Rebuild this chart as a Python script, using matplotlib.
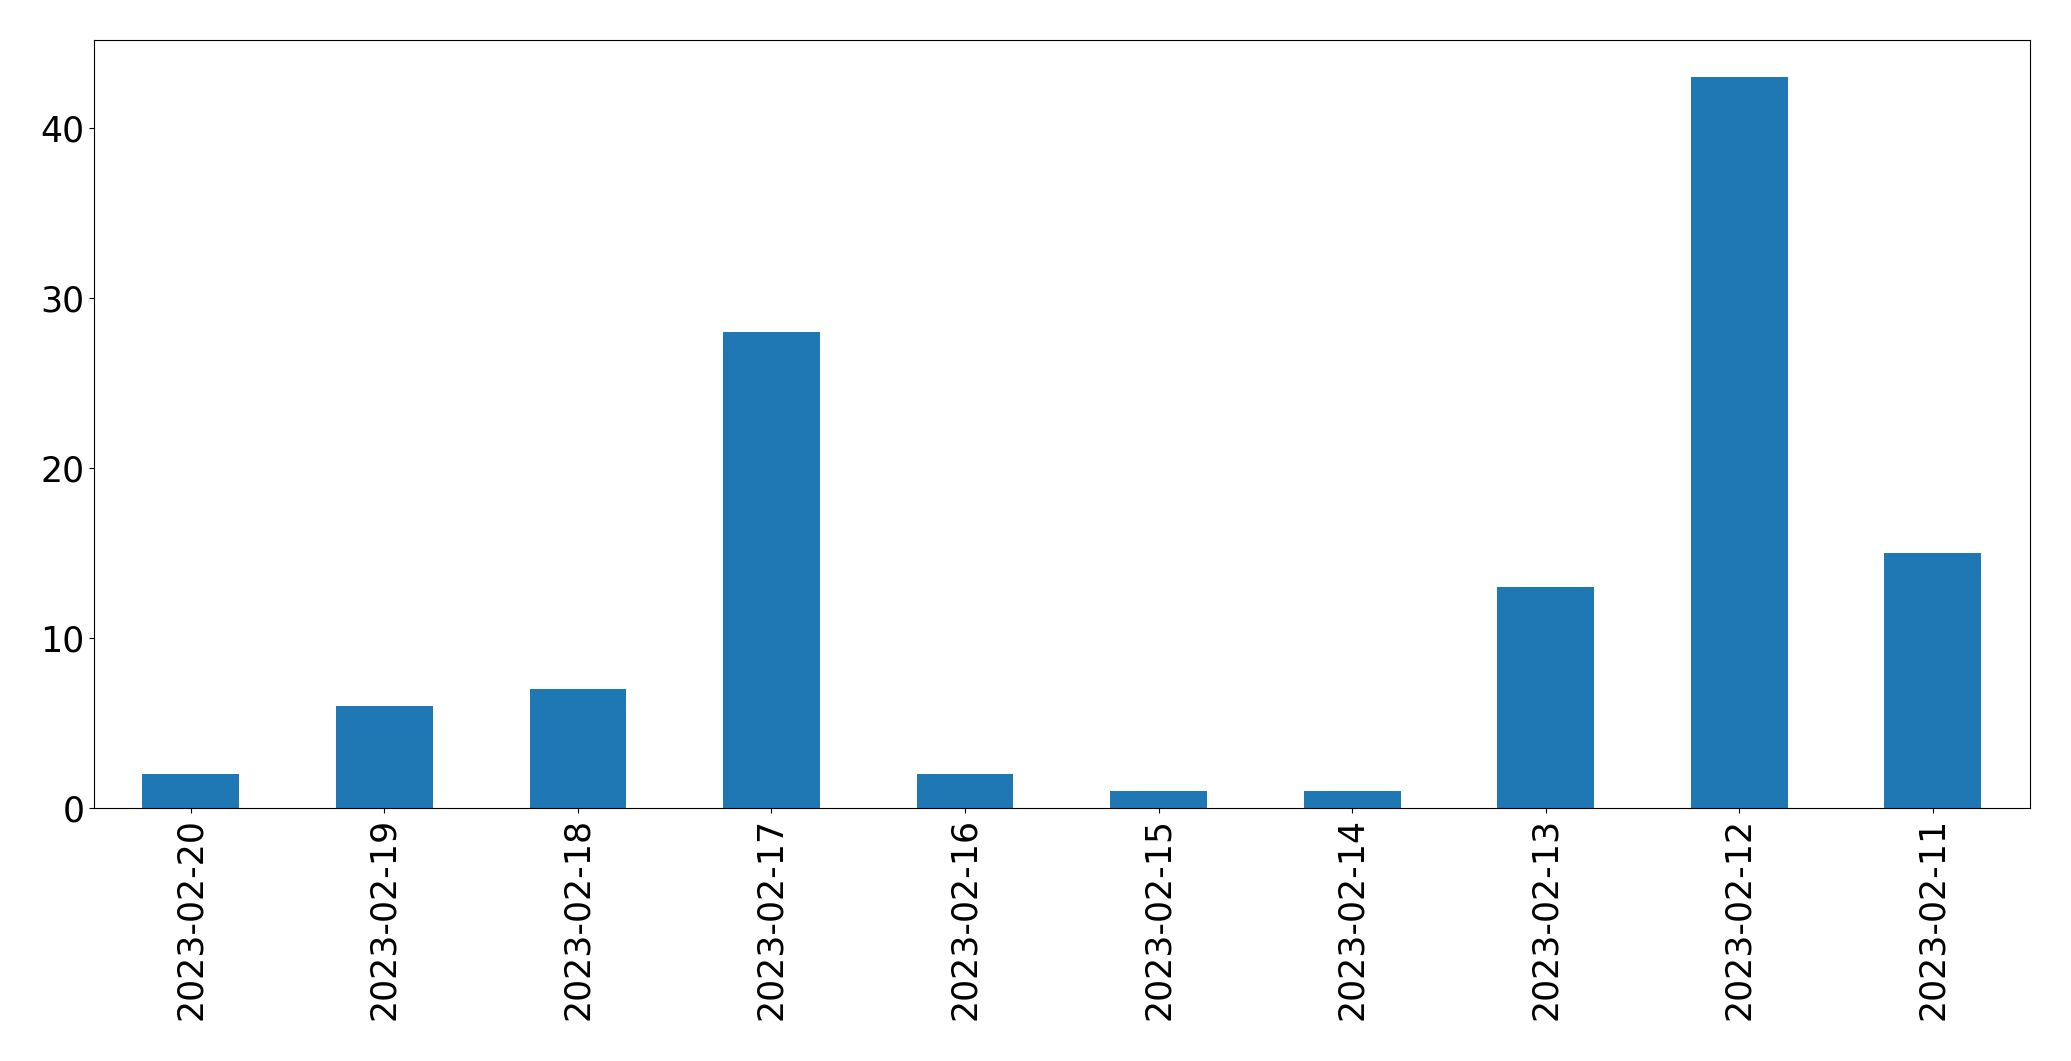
import matplotlib
matplotlib.use("Agg")
import matplotlib.pyplot as plt

dates = ["2023-02-20", "2023-02-19", "2023-02-18", "2023-02-17", "2023-02-16",
         "2023-02-15", "2023-02-14", "2023-02-13", "2023-02-12", "2023-02-11"]
counts = [2, 6, 7, 28, 2, 1, 1, 13, 43, 15]

fig, ax = plt.subplots(figsize=(20.71, 10.61), dpi=100)
fig.subplots_adjust(left=0.0454, right=0.980, top=0.962, bottom=0.2385)

x = range(len(dates))
ax.bar(x, counts, width=0.5, color="#1f77b4")
ax.set_xticks(list(x))
ax.set_xticklabels(dates, rotation=90)
ax.set_xlim(-0.5, len(dates) - 0.5)
ax.set_ylim(0, 45.15)
ax.tick_params(axis="both", labelsize=25)

fig.savefig("out.png", dpi=100)
